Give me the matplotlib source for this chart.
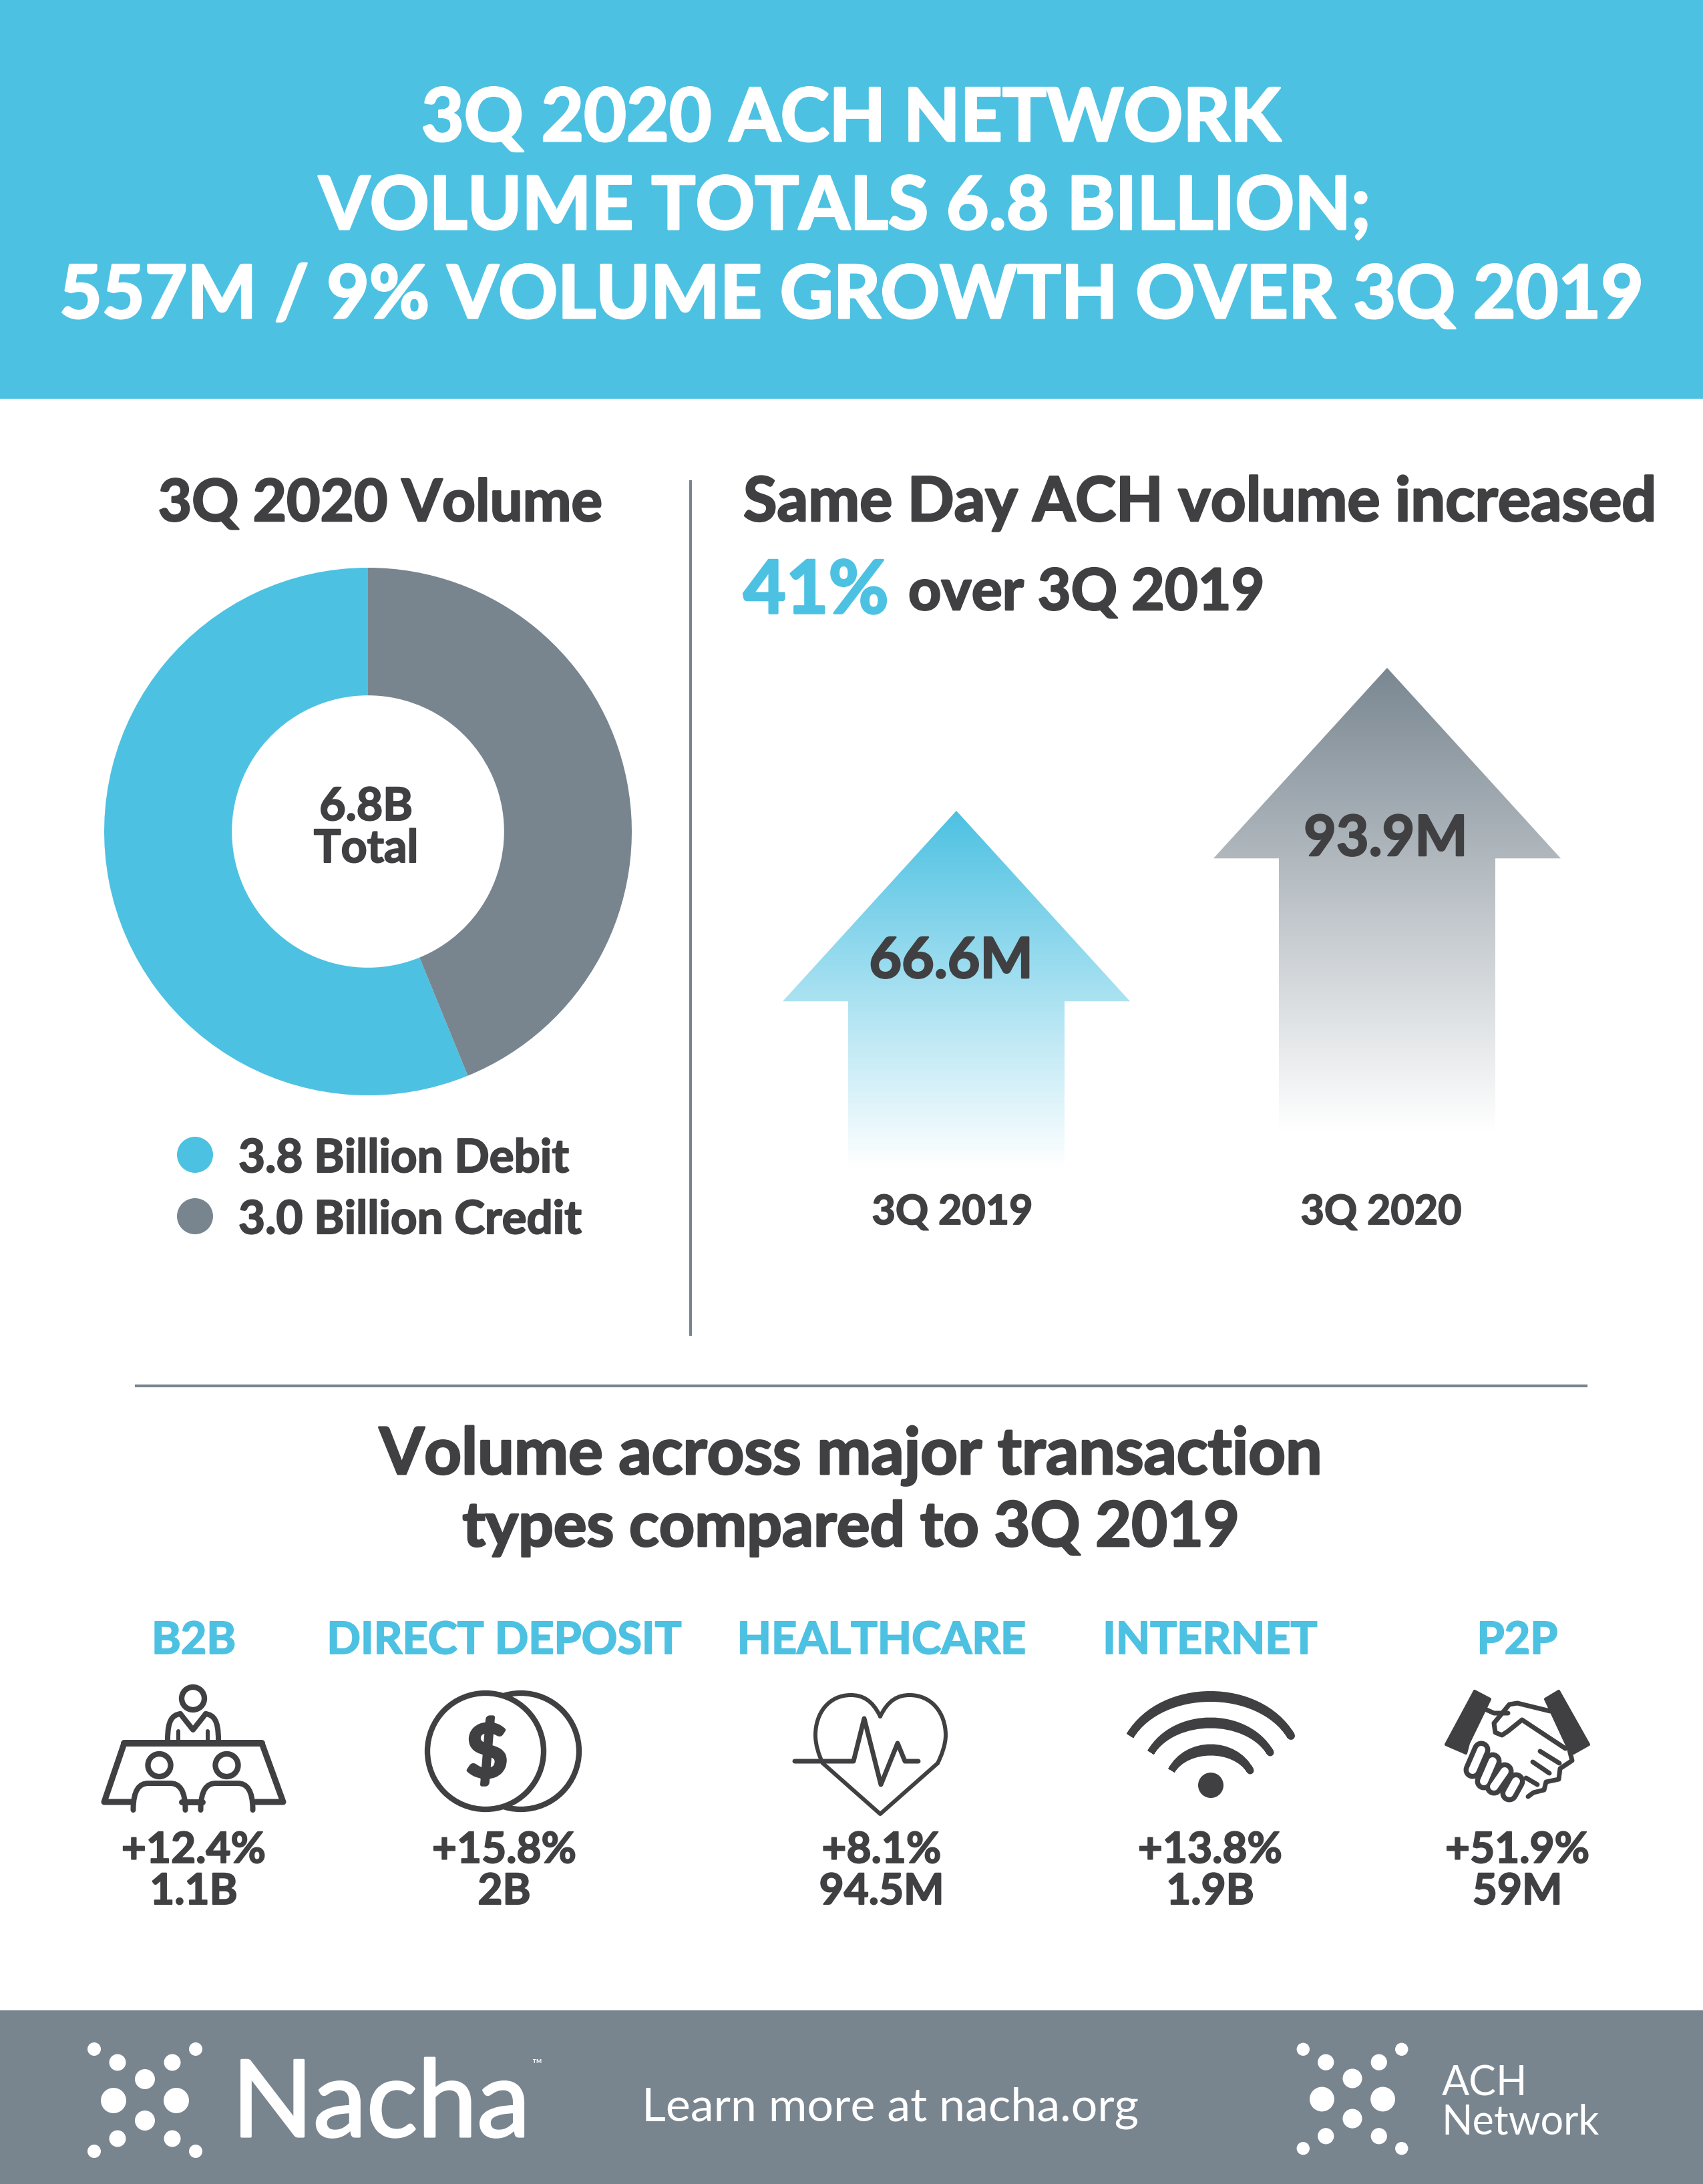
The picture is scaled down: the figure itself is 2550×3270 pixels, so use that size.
import numpy as np
import matplotlib
matplotlib.use("Agg")
import matplotlib.pyplot as plt
import matplotlib.patheffects as pe
from matplotlib.patches import Circle, Ellipse, PathPatch, Polygon, Rectangle
from matplotlib.path import Path

plt.rcParams["font.family"] = ["Lato", "DejaVu Sans"]

W, H = 2550, 3270
BLUE = "#4DC1E2"
SLATE = "#78858F"
DARK = "#404042"

title_lines = ["3Q 2020 ACH NETWORK", "VOLUME TOTALS 6.8 BILLION;", "557M / 9% VOLUME GROWTH OVER 3Q 2019"]
donut_labels = ["3.8 Billion Debit", "3.0 Billion Credit"]
donut_values = [3.82, 2.98]
donut_total = "6.8B"
same_day_periods = ["3Q 2019", "3Q 2020"]
same_day_values = [66.6, 93.9]
type_names = ["B2B", "DIRECT DEPOSIT", "HEALTHCARE", "INTERNET", "P2P"]
type_growth = [12.4, 15.8, 8.1, 13.8, 51.9]
type_volume = ["1.1B", "2B", "94.5M", "1.9B", "59M"]


def px_axes(left, top, right, bottom):
    return fig.add_axes([left / W, 1 - bottom / H, (right - left) / W, (bottom - top) / H])


def txt(x, y, s, size, color=DARK, weight="bold", ha="center", fat=0.03):
    t = ax.text(x, y, s, fontsize=size * 0.72, color=color, fontweight=weight, ha=ha, va="baseline", zorder=6)
    if fat:
        t.set_path_effects([pe.withStroke(linewidth=size * 0.72 * fat, foreground=color)])
    return t


def stroke(points, lw=9, color=DARK, **kw):
    xs, ys = zip(*points)
    ax.plot(xs, ys, color=color, lw=lw * 0.72, solid_capstyle=kw.pop("cap", "round"), solid_joinstyle="round", **kw)


def curve(verts, lw=9, fc="none", zorder=3):
    codes = [Path.MOVETO] + [Path.CURVE4] * (len(verts) - 1)
    ax.add_patch(PathPatch(Path(verts, codes), fc=fc, ec=DARK, lw=lw * 0.72, capstyle="round", zorder=zorder))


def crescent(x0, x1, y0, top_out, top_in, lw):
    ctrl_out = (4 * top_out - y0) / 3
    ctrl_in = (4 * top_in - y0) / 3
    a, b = x0 + (x1 - x0) * 0.2, x0 + (x1 - x0) * 0.8
    verts = [(x0, y0), (a, ctrl_out), (b, ctrl_out), (x1, y0), (b, ctrl_in), (a, ctrl_in), (x0, y0)]
    codes = [Path.MOVETO] + [Path.CURVE4] * 6
    ax.add_patch(PathPatch(Path(verts, codes), fc=DARK, ec=DARK, lw=lw * 0.72, joinstyle="round"))


def dots(cx, cy, k):
    offs = [(76, 77, 10), (41, 57, 12.5), (0, 32, 15), (47, 0, 19), (0, -30, 15), (41, -57, 12.5), (76, -76, 10)]
    for dx, dy, r in offs:
        for sx in ([-1, 1] if dx else [1]):
            ax.add_patch(Circle((cx + sx * dx * k, cy - dy * k), r * k, fc="white", ec="none"))


fig = plt.figure(figsize=(W / 100, H / 100), dpi=100, facecolor="white")
ax = fig.add_axes([0, 0, 1, 1])
ax.set_xlim(0, W)
ax.set_ylim(H, 0)
ax.axis("off")
ax.set_zorder(5)

# bands and rules
ax.add_patch(Rectangle((0, 0), W, 597, fc=BLUE, ec="none"))
ax.add_patch(Rectangle((0, 3010), W, 260, fc=SLATE, ec="none"))
ax.plot([1034, 1034], [721, 1998], color=SLATE, lw=3)
ax.plot([204, 2375], [2075, 2075], color=SLATE, lw=3)

for line, x, base in zip(title_lines, [1274, 1265, 1275], [211, 343, 476]):
    txt(x, base, line, 110, color="white")

# donut
txt(569, 780, "3Q 2020 Volume", 87)
ax_pie = px_axes(156, 850, 946, 1640)
ax_pie.pie(donut_values, colors=[BLUE, SLATE], startangle=90, counterclock=True, radius=1,
           wedgeprops={"width": 0.484, "linewidth": 0})
ax_pie.set_xlim(-1, 1)
ax_pie.set_ylim(-1, 1)
txt(548, 1228, donut_total, 68)
txt(548, 1291, "Total", 68)
for label, cy, base, col in zip(donut_labels, [1729, 1821], [1755, 1847], [BLUE, SLATE]):
    ax.add_patch(Ellipse((292, cy), 54, 54, fc=col, ec="none"))
    txt(357, base, label, 69, ha="left")

# same day arrows
txt(1113, 780, "Same Day ACH volume increased", 92, ha="left")
txt(1113, 918, "41%", 110, color=BLUE, ha="left")
txt(1360, 913, "over 3Q 2019", 86, ha="left")

ax_arrow = px_axes(1150, 950, 2400, 1800)
HEAD = 36.4
for value, cx, fade, top_rgb in zip(same_day_values, [1432, 2077], [-1.5, 5.5], [(77, 193, 226), (122, 135, 145)]):
    poly = Polygon([(cx - 162, fade), (cx - 162, value - HEAD), (cx - 260, value - HEAD), (cx, value),
                    (cx + 260, value - HEAD), (cx + 162, value - HEAD), (cx + 162, fade)],
                   closed=True, transform=ax_arrow.transData, fc="none", ec="none")
    ax_arrow.add_patch(poly)
    t = np.linspace(0, 1, 400)[:, None, None]
    grad = (np.array(top_rgb)[None, None, :] * (1 - t) + 255 * t) / 255
    im = ax_arrow.imshow(grad, extent=(cx - 260, cx + 260, fade, value), aspect="auto", origin="upper")
    im.set_clip_path(poly)
ax_arrow.set_xlim(1150, 2400)
ax_arrow.set_ylim(-8.16, 100.26)
ax_arrow.axis("off")

for value, x, base in zip(same_day_values, [1424, 2075], [1464, 1281]):
    txt(x, base, f"{value}M", 84)
for period, x in zip(same_day_periods, [1426, 2068]):
    txt(x, 1833, period, 61)

# transaction types
txt(1274, 2207, "Volume across major transaction", 97)
txt(1274, 2315, "types compared to 3Q 2019", 93)

type_x = [290, 755, 1320, 1812, 2272]
for name, g, v, x in zip(type_names, type_growth, type_volume, type_x):
    txt(x, 2476, name, 66.5, color=BLUE)
    txt(x, 2789, f"+{g}%", 64)
    txt(x, 2851, v, 64)

# b2b icon
ax.add_patch(Ellipse((289, 2543), 34, 34, fc="white", ec=DARK, lw=6))
curve([(251, 2605), (251, 2575), (258, 2568), (270, 2566)], 8)
curve([(327, 2605), (327, 2575), (320, 2568), (308, 2566)], 8)
stroke([(270, 2566), (289, 2590), (308, 2566)], 8)
stroke([(267, 2592), (267, 2605)], 6)
stroke([(311, 2592), (311, 2605)], 6)
stroke([(186, 2610), (392, 2610)], 10)
stroke([(186, 2610), (156, 2698), (196, 2698)], 9)
stroke([(392, 2610), (424, 2698), (383, 2698)], 9)
stroke([(272, 2698), (303, 2698)], 9)
for hx in [238.5, 339.5]:
    ax.add_patch(Ellipse((hx, 2643), 34, 34, fc="white", ec=DARK, lw=6))
    curve([(hx - 39, 2710), (hx - 39, 2680), (hx - 30, 2670), (hx - 16, 2670)], 8)
    curve([(hx + 39, 2710), (hx + 39, 2680), (hx + 30, 2670), (hx + 16, 2670)], 8)
    stroke([(hx - 16, 2670), (hx + 16, 2670)], 8)

# deposit icon
ax.add_patch(Circle((780, 2622), 87, fc="white", ec=DARK, lw=6))
ax.add_patch(Circle((727, 2622), 87, fc="white", ec=DARK, lw=6))
txt(729, 2660, "$", 108, fat=0.05)

# healthcare icon
curve([(1318, 2570), (1330, 2545), (1345, 2538), (1362, 2538), (1395, 2538), (1416, 2565), (1416, 2598),
       (1416, 2612), (1410, 2628), (1404, 2640)], 6)
curve([(1318, 2570), (1306, 2545), (1291, 2538), (1274, 2538), (1241, 2538), (1221, 2565), (1221, 2598),
       (1221, 2612), (1226, 2628), (1232, 2640)], 6)
stroke([(1404, 2640), (1318, 2716), (1232, 2640)], 6)
stroke([(1190, 2637), (1278, 2637), (1294, 2573), (1319, 2672), (1344, 2610), (1355, 2637), (1375, 2637)], 7)

# internet icon
crescent(1692, 1933, 2599, 2538, 2542, 12)
crescent(1723, 1902, 2624, 2577, 2582, 11)
crescent(1754, 1872, 2651, 2617, 2623, 11)
ax.add_patch(Circle((1813, 2673), 19, fc=DARK, ec="none"))

# p2p icon
ax.add_patch(Polygon([(2208, 2532), (2231, 2544), (2199, 2610), (2195, 2625), (2165, 2612)], fc=DARK, ec=DARK, lw=3, joinstyle="round"))
ax.add_patch(Polygon([(2334, 2532), (2314, 2544), (2347, 2615), (2356, 2625), (2379, 2612)], fc=DARK, ec=DARK, lw=3, joinstyle="round"))
stroke([(2226, 2560), (2237, 2565), (2258, 2565)], 7)
stroke([(2321, 2562), (2272, 2550), (2260, 2552), (2237, 2580), (2239, 2594), (2249, 2598), (2258, 2592),
        (2279, 2575), (2344, 2618)], 7)
for p, q in [((2218, 2620), (2205, 2650)), ((2235, 2637), (2222, 2667)), ((2253, 2652), (2237, 2675)), ((2270, 2667), (2260, 2685))]:
    stroke([p, q], 27)
    stroke([p, q], 12, color="white", zorder=4)
stroke([(2350, 2620), (2354, 2636), (2336, 2648), (2334, 2664), (2315, 2668), (2312, 2680), (2296, 2684), (2288, 2690)], 7)
stroke([(2306, 2622), (2335, 2640)], 7)
stroke([(2295, 2638), (2320, 2655)], 7)
stroke([(2285, 2662), (2302, 2672)], 7)

# footer
dots(217, 3145, 1)
txt(347, 3199, "Nacha", 160, color="white", weight="normal", ha="left", fat=0.02)
txt(796, 3096, "™", 20, color="white", weight="normal", ha="left", fat=0)
txt(961, 3175, "Learn more at nacha.org", 70, color="white", weight="normal", ha="left", fat=0)
dots(2025, 3143, 0.97)
txt(2159, 3137, "ACH", 61, color="white", weight="normal", ha="left", fat=0)
txt(2158, 3195, "Network", 61, color="white", weight="normal", ha="left", fat=0)

fig.savefig("out.png", dpi=100, facecolor="white")
